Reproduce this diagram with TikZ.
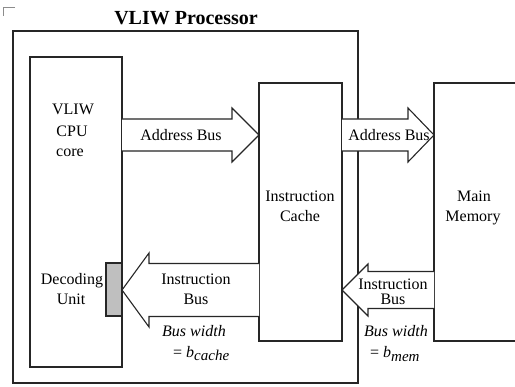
\documentclass[tikz,border=0pt]{standalone}
\usepackage{fontspec}
\setmainfont{Liberation Serif}
\usetikzlibrary{calc}

% Block arrow: #1 tail, #2 tip, #3 shaft half-width, #4 head half-width, #5 head length
\newcommand\busarrow[5]{%
  \coordinate (hb) at ($(#2)!#5pt!(#1)$);
  \path[bus] ($(#1)+(0,-#3)$) -- ($(hb)+(0,-#3)$) -- ($(hb)+(0,-#4)$) -- (#2)
    -- ($(hb)+(0,#4)$) -- ($(hb)+(0,#3)$) -- ($(#1)+(0,#3)$);
}

\begin{document}
\begin{tikzpicture}[x=1pt,y=-1pt,
  unit/.style={draw=black!85, line width=1.1pt, fill=white, inner sep=0pt,
               outer sep=0pt, anchor=north west},
  bus/.style={draw=black!85, line width=1.1pt, fill=white, line join=miter},
  lbl/.style={font=\fontsize{16}{19}\selectfont, inner sep=0pt, anchor=base},
  note/.style={lbl, font=\fontsize{16}{19}\selectfont\itshape},
  sub/.style={font=\fontsize{15}{15}\selectfont\itshape}
]
\useasboundingbox (0,0) rectangle (515,387);

% corner tick
\draw[black!45, line width=0.6pt] (15,7) -- (3,7) -- (3,16);

% processor outline and its title
\node[unit, minimum width=345pt, minimum height=352pt] (proc) at (13,31) {};
\node[lbl, font=\bfseries\fontsize{20}{24}\selectfont] (title) at (186,25) {VLIW Processor};

% functional units
\node[unit, minimum width=92pt,  minimum height=310pt] (cpu)   at (30,57)  {};
\node[unit, minimum width=83pt,  minimum height=258pt] (cache) at (259,83) {};
\node[unit, minimum width=110pt, minimum height=258pt] (mem)   at (434,83) {};

% bus rows
\coordinate (rowA) at (0,135);
\coordinate (rowB) at (0,290);

% decoding unit on the core's edge
\node[unit, fill=black!25, minimum width=16pt, minimum height=53pt] (dec) at (106,263) {};

% buses
\busarrow{cpu.east |- rowA}{cache.west |- rowA}{16}{27}{27}
\busarrow{cache.east |- rowA}{mem.west |- rowA}{16}{27}{26}
\busarrow{cache.west |- rowB}{dec.east |- rowB}{26.5}{37}{27}
\busarrow{mem.west |- rowB}{cache.east |- rowB}{18.5}{26}{26}

% labels
\node[lbl] (t1) at (73,115) {VLIW};
\node[lbl] (t2) at (72,137) {CPU};
\node[lbl] (t3) at (70,157) {core};

\node[lbl] (ab1) at (181,141) {Address Bus};
\node[lbl] (ab2) at (389,141) {Address Bus};

\node[lbl] (c1) at (300,202) {Instruction};
\node[lbl] (c2) at (300,222) {Cache};

\node[lbl] (m1) at (474,202) {Main};
\node[lbl] (m2) at (473,222) {Memory};

\node[lbl] (d1) at (72,285) {Decoding};
\node[lbl] (d2) at (71,305) {Unit};

\node[lbl] (ib1) at (196,285) {Instruction};
\node[lbl] (ib2) at (196,305) {Bus};
\node[lbl] (ib3) at (393,290) {Instruction};
\node[lbl] (ib4) at (393,305) {Bus};

\node[note] (w1) at (194,337) {Bus width};
\node[note, anchor=base west] (w2) at (173,358) {\upshape= \itshape b\raisebox{-3pt}{\fontsize{15}{15}\selectfont cache}};
\node[note] (w3) at (396,337) {Bus width};
\node[note, anchor=base west] (w4) at (370,358) {\upshape= \itshape b\raisebox{-4pt}{\fontsize{15}{15}\selectfont mem}};
\end{tikzpicture}
\end{document}
